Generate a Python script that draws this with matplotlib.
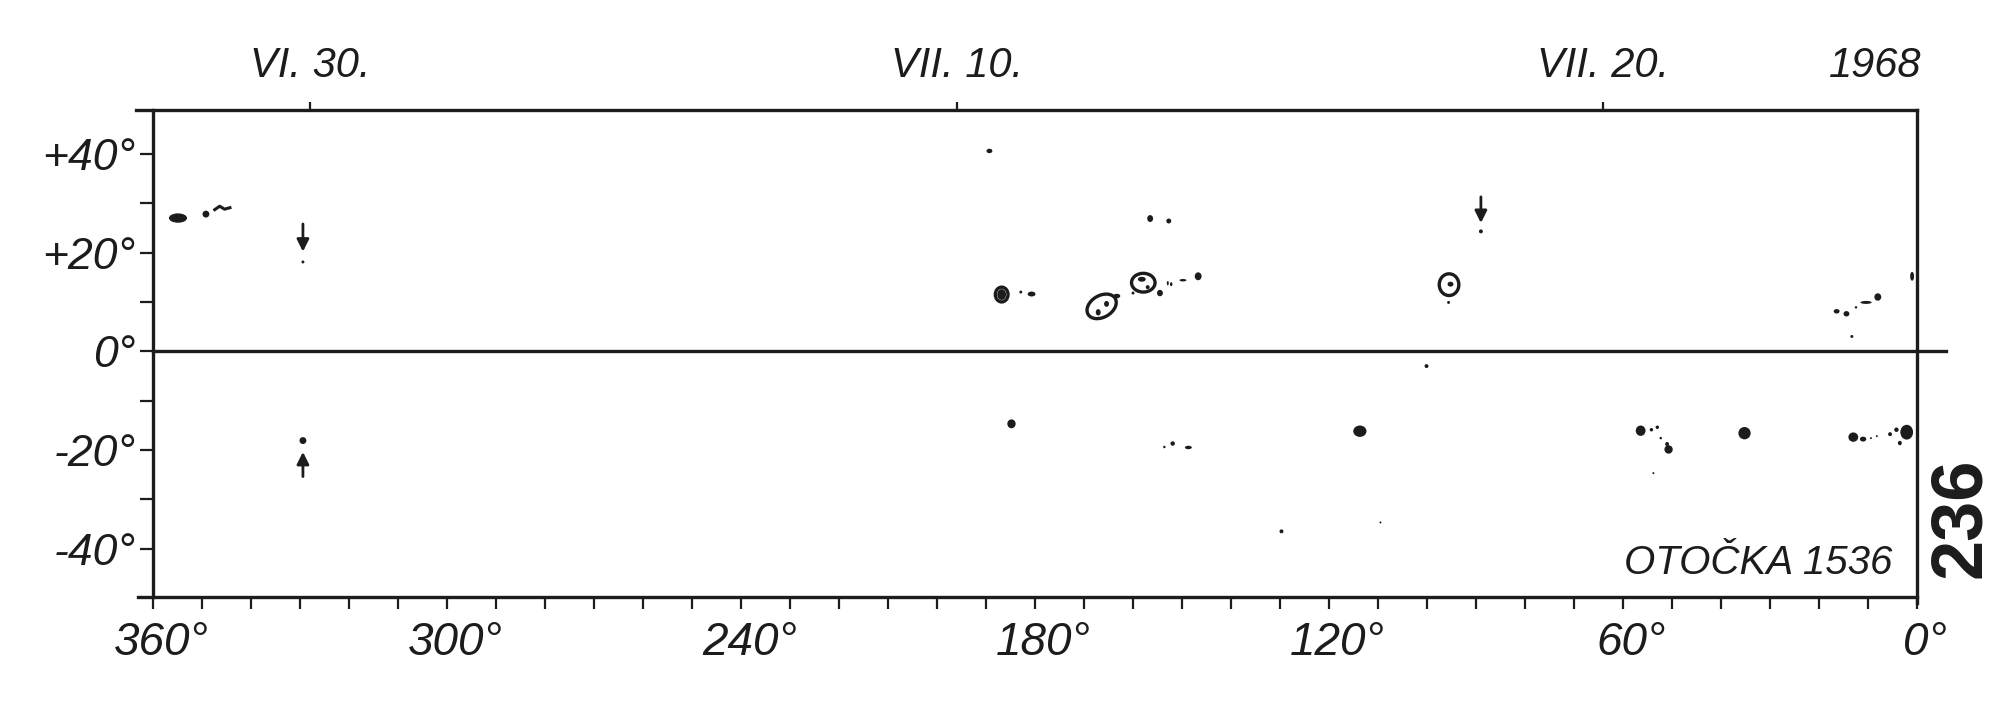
import matplotlib
matplotlib.use('Agg')
import matplotlib.pyplot as plt
from matplotlib.patches import Ellipse
from matplotlib.transforms import ScaledTranslation

# Synoptic map of sunspots, Carrington rotation 1536 (1968)
# longitude runs from 360 on the left to 0 on the right

# axis ticks and labels
lon_ticks = list(range(0, 361, 10))
lon_labels = {360: '360°', 300: '300°', 240: '240°', 180: '180°', 120: '120°', 60: '60°', 0: '0°'}
lat_ticks = [-40, -30, -20, -10, 0, 10, 20, 30, 40]
lat_labels = {40: '+40°', 20: '+20°', 0: '0°', -20: '-20°', -40: '-40°'}
date_lons = [328, 196, 64]
date_labels = ['VI. 30.', 'VII. 10.', 'VII. 20.']
year_label = '1968'
rotation_label = 'OTOČKA 1536'
page_number = '236'

# spots: longitude, latitude, width (deg), height (deg)
spot_lon = [354.9, 349.2, 329.4, 329.4, 189.3, 186.8, 182.9, 180.7, 156.5, 152.7,
            167.1, 165.4, 163.3, 158.2, 157.0, 154.5, 160.0, 152.9, 152.2, 149.8, 146.7,
            184.8, 153.6, 151.9, 148.7, 113.7, 129.7, 109.5,
            89.0, 95.2, 95.6, 100.1,
            16.4, 14.4, 12.45, 10.4, 8.0, 13.3,
            56.4, 54.2, 53.0, 52.3, 51.0, 50.7, 53.8, 35.2,
            13.0, 11.0, 9.4, 8.2, 5.5, 4.2, 2.1, 3.5, 1.0]
spot_lat = [27.0, 27.8, 18.1, -18.1, 40.6, 11.5, 12.0, 11.6, 26.9, 26.4,
            7.9, 9.6, 11.2, 14.6, 13.0, 11.8, 11.8, 13.8, 13.6, 14.4, 15.2,
            -14.7, -19.4, -18.7, -19.5, -16.2, -36.5, -34.7,
            24.3, 13.6, 9.9, -3.0,
            8.1, 7.6, 8.9, 9.9, 11.0, 3.0,
            -16.1, -15.9, -15.4, -17.6, -18.8, -19.9, -24.7, -16.6,
            -17.4, -17.8, -17.6, -17.2, -16.8, -15.9, -16.4, -18.6, 15.2]
spot_w = [3.7, 1.4, 0.6, 1.4, 1.2, 1.8, 0.6, 1.6, 1.2, 1.0,
          1.0, 1.0, 1.4, 1.6, 0.8, 1.2, 0.6, 0.4, 0.5, 1.4, 1.4,
          1.7, 0.5, 0.9, 1.4, 2.7, 0.8, 0.4,
          0.8, 1.2, 0.6, 0.8,
          1.2, 1.2, 0.5, 2.3, 1.4, 0.6,
          2.0, 0.7, 0.7, 0.5, 0.8, 1.7, 0.4, 2.5,
          2.0, 1.3, 0.4, 0.4, 0.8, 0.9, 2.6, 0.8, 0.8]
spot_h = [1.9, 1.4, 0.6, 1.4, 0.9, 2.2, 0.6, 1.0, 1.4, 1.0,
          1.3, 1.2, 0.9, 1.0, 0.8, 1.3, 0.6, 0.9, 0.8, 0.5, 1.6,
          1.8, 0.5, 0.9, 0.7, 2.3, 0.8, 0.4,
          0.8, 1.0, 0.6, 0.8,
          0.9, 1.1, 0.5, 0.6, 1.5, 0.6,
          2.1, 0.7, 0.7, 0.5, 0.8, 1.7, 0.4, 2.5,
          1.9, 1.0, 0.4, 0.4, 0.8, 0.9, 3.0, 0.9, 1.8]

# penumbra outlines
ring_lon = [166.4, 157.9, 95.5, 186.8]
ring_lat = [9.1, 13.9, 13.5, 11.5]
ring_w = [6.4, 4.8, 4.0, 2.6]
ring_h = [4.4, 3.8, 4.4, 3.0]
ring_ang = [-30, 0, 0, 0]

# arrows: longitude, start latitude, end latitude
arrow_lon = [329.4, 89.0, 329.4]
arrow_from = [25.8, 31.3, -25.4]
arrow_to = [20.2, 26.0, -20.4]

# wavy mark near 345
wave_lon = [347.4, 346.4, 345.4, 344.3]
wave_lat = [28.7, 29.4, 28.8, 29.1]

plt.rcParams['font.family'] = ['Liberation Sans', 'DejaVu Sans']
ink = '#1c1c1c'

fig = plt.figure(figsize=(20, 7.02), dpi=100)
ax = fig.add_axes([0.0765, 0.1496, 0.882, 0.6937])
ax.set_xlim(360, 0)
ax.set_ylim(-49.8, 48.9)
for s in ax.spines.values():
    s.set_visible(False)

# frame and equator drawn by hand (they overhang a little in the original)
lw = 2.4
ax.plot([363.4, 0], [48.9, 48.9], color=ink, lw=lw, clip_on=False)
ax.plot([363.0, 0], [-49.8, -49.8], color=ink, lw=lw, clip_on=False)
ax.plot([360, 360], [-49.8, 48.9], color=ink, lw=lw, clip_on=False)
ax.plot([0, 0], [-51.0, 48.9], color=ink, lw=lw, clip_on=False)
ax.plot([360, -5.9], [0, 0], color=ink, lw=lw, clip_on=False)

ax.set_xticks(lon_ticks)
ax.set_xticklabels([lon_labels.get(t, '') for t in lon_ticks])
ax.set_yticks(lat_ticks)
ax.set_yticklabels([lat_labels.get(t, '') for t in lat_ticks])
ax.tick_params(axis='x', direction='out', length=8.5, width=1.6, color=ink,
               labelsize=33, pad=9, labelcolor=ink)
ax.tick_params(axis='y', direction='out', length=9.5, width=1.6, color=ink,
               labelsize=32, pad=3, labelcolor=ink)
shift = ScaledTranslation(6 / 72, 0, fig.dpi_scale_trans)
for lab in ax.get_xticklabels():
    lab.set_style('italic')
    lab.set_transform(lab.get_transform() + shift)
for lab in ax.get_yticklabels():
    lab.set_style('italic')

# dates along the top
top = ax.secondary_xaxis('top')
top.set_xticks(date_lons)
top.set_xticklabels(date_labels)
top.tick_params(direction='out', length=6, width=1.6, color=ink, labelsize=30,
                pad=11, labelcolor=ink)
for s in top.spines.values():
    s.set_visible(False)
for lab in top.get_xticklabels():
    lab.set_style('italic')
ax.annotate(year_label, xy=(8.6, 1.0), xycoords=ax.get_xaxis_transform(),
            xytext=(0, 17), textcoords='offset points', ha='center', va='bottom',
            fontsize=30, style='italic', color=ink)

# sunspots
for x, y, w, h in zip(spot_lon, spot_lat, spot_w, spot_h):
    ax.add_patch(Ellipse((x, y), w, h, color=ink, lw=0))
for x, y, w, h, a in zip(ring_lon, ring_lat, ring_w, ring_h, ring_ang):
    ax.add_patch(Ellipse((x, y), w, h, angle=a, fill=False, ec=ink, lw=2.4))
ax.plot(wave_lon, wave_lat, color=ink, lw=2.2)
for x, y0, y1 in zip(arrow_lon, arrow_from, arrow_to):
    ax.annotate('', xy=(x, y1), xytext=(x, y0),
                arrowprops=dict(arrowstyle='-|>', color=ink, lw=2.0,
                                mutation_scale=18, shrinkA=0, shrinkB=0))

ax.text(32.5, -43.0, rotation_label, ha='center', va='center', fontsize=29,
        style='italic', color=ink)
fig.text(0.9805, 0.262, page_number, rotation=90, ha='center', va='center',
         fontsize=52, fontweight='bold', color=ink)

fig.savefig('out.png', dpi=100, facecolor='white')
